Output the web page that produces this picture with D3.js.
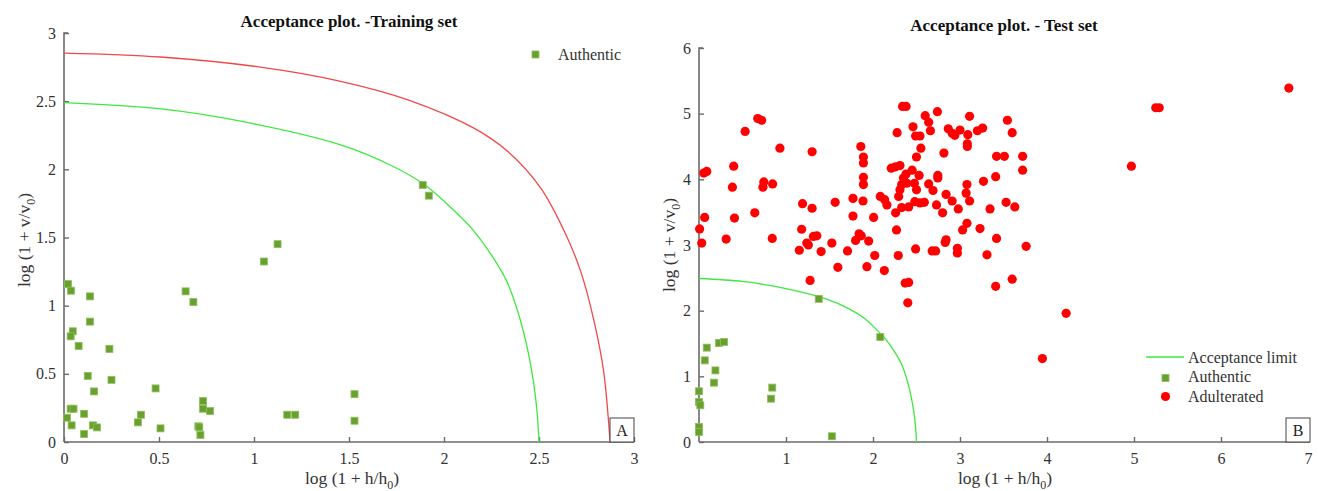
<!DOCTYPE html>
<html>
<head>
<meta charset="utf-8">
<script src="https://cdn.jsdelivr.net/npm/d3@7"></script>
<style>
  html, body { margin: 0; padding: 0; background: #fff; }
  svg { display: block; font-family: "Liberation Serif", "Times New Roman", serif; }
</style>
</head>
<body>
<svg id="chart" width="1318" height="491"></svg>
<script>
// ---------------- DATA ----------------
const titles = ["Acceptance plot. -Training set", "Acceptance plot. - Test set"];
const panelTags = ["A", "B"];
const trainXTicks = [0, 0.5, 1, 1.5, 2, 2.5, 3];
const trainYTicks = [0, 0.5, 1, 1.5, 2, 2.5, 3];
const testXTicks = [1, 2, 3, 4, 5, 6, 7];
const testYTicks = [0, 1, 2, 3, 4, 5, 6];
const legendTrain = ["Authentic"];
const legendTest = ["Acceptance limit", "Authentic", "Adulterated"];

// acceptance limit (green)
const limitX = [0, 0.5, 0.93, 1.46, 1.72, 1.9, 2.04, 2.15, 2.25, 2.33, 2.39, 2.44, 2.47, 2.49, 2.50];
const limitY = [2.49, 2.445, 2.353, 2.178, 2.03, 1.885, 1.714, 1.56, 1.37, 1.18, 0.95, 0.68, 0.45, 0.22, 0];
// outer limit (red) in training plot
const outerX = [0, 0.507, 1.034, 1.456, 1.81, 2.16, 2.336, 2.51, 2.635, 2.72, 2.79, 2.84, 2.865, 2.874];
const outerY = [2.853, 2.824, 2.75, 2.646, 2.51, 2.30, 2.13, 1.86, 1.54, 1.25, 0.885, 0.52, 0.17, 0];

// training set – authentic samples [h, v]
const trainAuthentic = [
  [0.021,1.158],[0.037,1.11],[0.137,1.068],[0.137,0.883],[0.046,0.812],[0.035,0.775],[0.077,0.705],
  [0.239,0.683],[0.125,0.485],[0.25,0.456],[0.158,0.371],[0.035,0.244],[0.05,0.244],[0.016,0.178],
  [0.04,0.122],[0.106,0.207],[0.106,0.058],[0.153,0.122],[0.174,0.107],[0.389,0.144],[0.405,0.2],
  [0.482,0.393],[0.508,0.1],[0.64,1.105],[0.681,1.026],[0.732,0.3],[0.732,0.244],[0.769,0.227],
  [0.707,0.115],[0.712,0.108],[0.718,0.051],[1.052,1.324],[1.124,1.451],[1.175,0.2],[1.217,0.2],
  [1.529,0.351],[1.529,0.156],[1.888,1.886],[1.92,1.807]
];
// test set – authentic samples
const testAuthentic = [
  [0.089,1.437],[0.066,1.243],[0.231,1.507],[0.288,1.522],[0.189,1.09],[0.173,0.904],[0.0,0.772],
  [0.0,0.609],[0.015,0.559],[0.0,0.228],[0.0,0.152],[0.842,0.828],[0.827,0.66],[1.527,0.087],
  [2.084,1.598],[1.376,2.18]
];
// test set – adulterated samples
const testAdulterated = [
  [6.78,5.39],[5.25,5.09],[5.29,5.09],[4.97,4.20],[4.22,1.96],[3.947,1.27],
  [0.007,3.245],[0.031,3.03],[0.065,3.42],[0.055,4.095],[0.089,4.12],[0.312,3.09],[0.384,3.88],
  [0.399,4.20],[0.408,3.41],[0.53,4.73],[0.641,3.49],[0.675,4.925],
  [0.72,4.90],[0.735,3.88],[0.745,3.96],[0.846,3.93],[0.842,3.10],[0.93,4.475],
  [1.86,4.50],[1.89,4.34],[1.89,4.25],[1.89,4.03],[1.89,3.92],
  [2.21,4.17],[2.26,4.19],[2.31,4.21],[2.38,4.08],[2.45,4.14],[2.53,4.06],
  [2.35,4.02],[2.39,3.94],[2.33,3.92],[2.31,3.84],[2.295,3.74],
  [2.476,3.94],[2.5,3.84],[2.64,3.93],[2.69,3.83],[2.745,4.06],[2.745,4.02],
  [2.84,3.77],[2.91,3.67],[2.98,3.55],[3.08,3.92],[3.07,3.79],[3.11,3.67],[3.27,3.97],[3.345,3.55],
  [3.53,3.65],[3.63,3.58],
  [2.084,3.74],[2.134,3.69],[2.16,3.61],
  [2.26,3.49],[2.33,3.57],[2.41,3.58],[2.48,3.66],[2.54,3.64],[2.59,3.65],[2.73,3.61],[2.80,3.49],
  [1.885,3.67],[2.007,3.42],[1.77,3.71],[1.77,3.44],[1.565,3.65],[1.19,3.63],[1.30,3.56],
  [1.18,3.24],[1.315,3.13],[1.354,3.14],[1.239,3.03],[1.257,3.00],[1.153,2.92],[1.404,2.90],
  [1.527,3.03],[1.596,2.66],[1.707,2.91],
  [1.84,3.17],[1.865,3.14],[1.80,3.07],[1.95,3.06],[2.02,2.84],[1.93,2.67],[2.13,2.61],[2.27,3.23],
  [2.29,2.84],[2.49,2.94],[2.68,2.91],[2.72,2.91],[2.83,3.04],[2.84,3.08],[2.97,2.95],[2.97,2.88],
  [3.03,3.23],[3.08,3.33],[3.23,3.25],[3.31,2.85],[3.42,3.10],[3.76,2.98],[3.41,2.37],[3.60,2.48],
  [2.37,2.42],[2.41,2.43],[2.40,2.12],[1.277,2.46],[1.30,4.42],
  [2.34,5.11],[2.38,5.11],[2.60,4.97],[2.74,5.03],[3.11,4.96],[3.545,4.90],[3.60,4.71],[2.277,4.71],
  [2.46,4.80],[2.64,4.87],[2.66,4.74],[2.49,4.66],[2.54,4.66],[2.865,4.77],[2.91,4.70],[3.0,4.75],
  [2.94,4.67],[3.09,4.68],[3.084,4.54],[3.084,4.50],[3.2,4.74],[3.26,4.78],[2.55,4.475],[2.5,4.34],
  [2.815,4.40],[3.42,4.35],[3.51,4.35],[3.72,4.35],[3.72,4.14],[3.41,4.04]
];

// ---------------- STYLE ----------------
const AXIS_COLOR = "#6b6b6b";
const TEXT_COLOR = "#333";
const SQ_FILL = "#6aa030";
const SQ_STROKE = "#8cc05a";
const RED = "#ff0000";
const GREEN_LINE = "#3ee83e";
const RED_LINE = "#f04848";
const TICK_FS = 16, LABEL_FS = 17.5, TITLE_FS = 17, LEGEND_FS = 16;

const svg = d3.select("#chart");

function drawPanel(cfg) {
  const g = svg.append("g");
  const x = d3.scaleLinear().domain(cfg.xDomain).range(cfg.xRange);
  const y = d3.scaleLinear().domain(cfg.yDomain).range(cfg.yRange);

  // axes
  const xAxis = d3.axisBottom(x).tickValues(cfg.xTicks).tickSizeInner(-5).tickSizeOuter(0)
    .tickFormat(d3.format("~g")).tickPadding(11);
  const yAxis = d3.axisLeft(y).tickValues(cfg.yTicks).tickSizeInner(-5).tickSizeOuter(0)
    .tickFormat(d3.format("~g")).tickPadding(8);

  const gx = g.append("g").attr("transform", `translate(0,${cfg.yRange[0]})`).call(xAxis);
  const gy = g.append("g").attr("transform", `translate(${cfg.xRange[0]},0)`).call(yAxis);
  [gx, gy].forEach(a => {
    a.select(".domain").attr("stroke", AXIS_COLOR).attr("stroke-width", 1.6);
    a.selectAll(".tick line").attr("stroke", AXIS_COLOR).attr("stroke-width", 1.4);
    a.selectAll(".tick text").attr("fill", TEXT_COLOR).attr("font-size", TICK_FS)
      .attr("font-family", "Liberation Serif, serif");
  });
  gx.select(".domain").attr("d", `M${cfg.xRange[0]},0H${cfg.axisRight}`);
  gy.select(".domain").attr("d", `M0,${cfg.yRange[0]}V${cfg.yRange[1]}h4`);

  // curves
  const line = d3.line().x(d => x(d[0])).y(d => y(d[1])).curve(d3.curveCatmullRom.alpha(0.5));
  cfg.curves.forEach(c => {
    const pts = c.xs.map((v, i) => [v, c.ys[i]]);
    g.append("path").attr("d", line(pts)).attr("fill", "none")
      .attr("stroke", c.color).attr("stroke-width", 1.3);
  });

  // authentic squares
  const s = 7;
  g.append("g").selectAll("rect").data(cfg.squares).join("rect")
    .attr("x", d => x(d[0]) - s / 2).attr("y", d => y(d[1]) - s / 2)
    .attr("width", s).attr("height", s)
    .attr("fill", SQ_FILL).attr("stroke", SQ_STROKE).attr("stroke-width", 0.8);

  // adulterated circles
  if (cfg.circles) {
    g.append("g").selectAll("circle").data(cfg.circles).join("circle")
      .attr("cx", d => x(d[0])).attr("cy", d => y(d[1])).attr("r", 4.6)
      .attr("fill", RED);
  }

  // title
  g.append("text").attr("x", cfg.titleX).attr("y", cfg.titleY).attr("text-anchor", "middle")
    .attr("font-weight", "bold").attr("font-size", TITLE_FS).attr("fill", "#111").text(cfg.title);

  // x label
  const xl = g.append("text").attr("x", cfg.xLabelX).attr("y", 484).attr("text-anchor", "middle")
    .attr("font-size", LABEL_FS).attr("fill", TEXT_COLOR);
  xl.append("tspan").text("log (1 + h/h");
  xl.append("tspan").attr("font-size", 12).attr("dy", 5).text("0");
  xl.append("tspan").attr("dy", -5).text(")");

  // y label
  const yl = g.append("text").attr("transform", `translate(${cfg.yLabelX},${cfg.yLabelY}) rotate(-90)`)
    .attr("text-anchor", "middle").attr("font-size", LABEL_FS).attr("fill", TEXT_COLOR);
  yl.append("tspan").text("log (1 + v/v");
  yl.append("tspan").attr("font-size", 12).attr("dy", 5).text("0");
  yl.append("tspan").attr("dy", -5).text(")");

  // corner tag box
  const bx = cfg.axisRight - 24, by = cfg.yRange[0] - 24;
  g.append("rect").attr("x", bx).attr("y", by).attr("width", 24).attr("height", 24)
    .attr("fill", "#fff").attr("stroke", "#444").attr("stroke-width", 1);
  g.append("text").attr("x", bx + 12).attr("y", by + 18).attr("text-anchor", "middle")
    .attr("font-size", 16).attr("fill", "#222").text(cfg.tag);

  // legend
  cfg.legend(g);
}

drawPanel({
  xDomain: [0, 3], xRange: [64, 634],
  yDomain: [0, 3], yRange: [442, 33],
  axisRight: 634,
  xTicks: trainXTicks, yTicks: trainYTicks,
  curves: [
    { xs: outerX, ys: outerY, color: RED_LINE },
    { xs: limitX, ys: limitY, color: GREEN_LINE }
  ],
  squares: trainAuthentic,
  circles: null,
  title: titles[0], titleX: 349, titleY: 27,
  xLabelX: 352, yLabelX: 30, yLabelY: 240,
  tag: panelTags[0],
  legend: g => {
    g.append("rect").attr("x", 532).attr("y", 51).attr("width", 7).attr("height", 7)
      .attr("fill", SQ_FILL).attr("stroke", SQ_STROKE).attr("stroke-width", 0.8);
    g.append("text").attr("x", 558).attr("y", 60).attr("font-size", LEGEND_FS).attr("fill", TEXT_COLOR)
      .text(legendTrain[0]);
  }
});

drawPanel({
  xDomain: [0, 7], xRange: [699, 1308],
  yDomain: [0, 6], yRange: [442, 48],
  axisRight: 1310,
  xTicks: testXTicks, yTicks: testYTicks,
  curves: [ { xs: limitX, ys: limitY, color: GREEN_LINE } ],
  squares: testAuthentic,
  circles: testAdulterated,
  title: titles[1], titleX: 1004, titleY: 31,
  xLabelX: 1005, yLabelX: 675, yLabelY: 245,
  tag: panelTags[1],
  legend: g => {
    g.append("line").attr("x1", 1146).attr("x2", 1184).attr("y1", 357).attr("y2", 357)
      .attr("stroke", GREEN_LINE).attr("stroke-width", 1.3);
    g.append("rect").attr("x", 1162).attr("y", 374.5).attr("width", 7).attr("height", 7)
      .attr("fill", SQ_FILL).attr("stroke", SQ_STROKE).attr("stroke-width", 0.8);
    g.append("circle").attr("cx", 1165.5).attr("cy", 396.5).attr("r", 4.6).attr("fill", RED);
    legendTest.forEach((t, i) => {
      g.append("text").attr("x", 1188).attr("y", 362.5 + i * 19.5).attr("font-size", LEGEND_FS)
        .attr("fill", TEXT_COLOR).text(t);
    });
  }
});
</script>
</body>
</html>
